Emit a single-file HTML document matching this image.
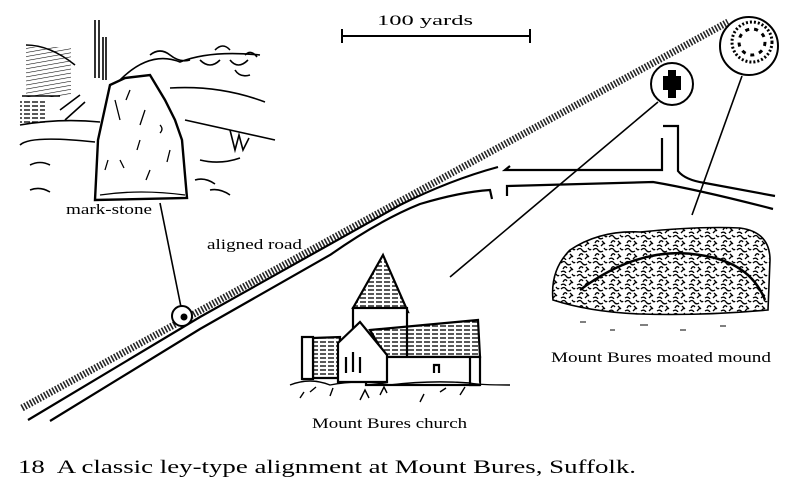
<!DOCTYPE html>
<html><head><meta charset="utf-8"><style>
html,body{margin:0;padding:0;background:#fff;}
svg{display:block;}
text{font-family:"Liberation Serif",serif;fill:#000;}
</style></head><body>
<svg width="800" height="486" viewBox="0 0 800 486" xmlns="http://www.w3.org/2000/svg">
<defs>
<pattern id="scrib" width="16" height="13" patternUnits="userSpaceOnUse">
<path d="M1 3 q3 -3 5 0 t5 1 M3 9 q2 -4 4 -1 M10 7 l3 3 M12 1 q2 3 3 1 M1 12 q3 -2 5 1 M9 12 l3 -3" stroke="#000" stroke-width="1.3" fill="none"/>
</pattern>
<pattern id="hatch" width="4" height="4" patternUnits="userSpaceOnUse" patternTransform="rotate(80)">
<line x1="0" y1="0" x2="0" y2="4" stroke="#000" stroke-width="1.1"/>
</pattern>
<pattern id="hlines" width="8" height="4" patternUnits="userSpaceOnUse">
<line x1="0" y1="2" x2="6" y2="2" stroke="#000" stroke-width="1.3"/>
</pattern>
</defs>

<!-- scale bar -->
<text x="377" y="25" font-size="15" textLength="96" lengthAdjust="spacingAndGlyphs">100 yards</text>
<path d="M342 36 H530 M342 29 V43 M530 29 V43" stroke="#000" stroke-width="2" fill="none"/>

<!-- ley dotted line -->
<line x1="22" y1="408" x2="728" y2="22" stroke="#000" stroke-width="7" stroke-dasharray="1.6 1.6" opacity="0.85"/>

<!-- road edges -->
<path d="M28 420 L200 317 L400 205 Q450 180 498 167" stroke="#000" stroke-width="2.2" fill="none"/>
<path d="M50 421 L200 329 L330 255 Q380 220 420 204 Q460 192 490 190 L492 199" stroke="#000" stroke-width="2.2" fill="none"/>
<path d="M510 166 L505 170 L662 170 L662 138 M663 126 H678 V171 Q685 180 705 183 L775 196" stroke="#000" stroke-width="2.2" fill="none"/>
<path d="M507 196 L507 186 L653 182 Q700 190 773 209" stroke="#000" stroke-width="2.2" fill="none"/>

<!-- pointer lines -->
<line x1="450" y1="277" x2="658" y2="102" stroke="#000" stroke-width="1.6"/>
<line x1="692" y1="215" x2="742" y2="76" stroke="#000" stroke-width="1.6"/>
<line x1="160" y1="203" x2="181" y2="307" stroke="#000" stroke-width="1.6"/>

<!-- circles -->
<circle cx="182" cy="316" r="10" fill="#fff" stroke="#000" stroke-width="2"/>
<circle cx="184" cy="317" r="3.5" fill="#000"/>
<circle cx="672" cy="84" r="21" fill="#fff" stroke="#000" stroke-width="2"/>
<path d="M668 70 h8 v6 h5 v14 h-5 v8 h-8 v-8 h-5 v-14 h5z" fill="#000"/>
<circle cx="749" cy="46" r="29" fill="#fff" stroke="#000" stroke-width="2"/>
<circle cx="752" cy="42" r="20" fill="none" stroke="#000" stroke-width="3" stroke-dasharray="2 2"/>
<circle cx="752" cy="42" r="13" fill="none" stroke="#000" stroke-width="3" stroke-dasharray="4 5"/>

<!-- mark-stone sketch -->
<g stroke="#000" fill="none" stroke-width="1.6">
<path d="M95 20 V78 M99 20 V78 M103 37 V80 M106 37 V80"/>
<rect x="26" y="47" width="45" height="50" fill="url(#hatch)" stroke="none"/>
<rect x="20" y="100" width="25" height="25" fill="url(#hlines)" stroke="none"/>
<path d="M26 45 Q50 45 75 65 M22 96 H60 M20 125 Q60 118 100 122 M20 145 Q30 135 95 142 M170 88 Q220 85 265 102 M185 120 L230 130 L275 140 M120 80 Q150 50 180 62 Q210 50 260 55"/>
<path d="M150 55 q10 -8 20 0 t20 5 M200 60 q10 10 20 0 M230 60 q8 10 18 0 M235 70 q5 8 15 5 M215 50 q8 -8 15 0 M245 55 q6 -6 12 2 M60 110 l20 -15 M65 120 l20 -18" />
<path d="M95 200 L98 140 L110 85 L125 78 L150 75 L165 100 L175 120 L182 140 L185 175 L187 198 Z" fill="#fff" stroke-width="2.4"/>
<path d="M115 100 l5 20 M145 110 l-5 15 M160 125 q4 4 0 8 M140 140 l-3 10 M120 160 l4 8 M150 170 l-4 10 M100 195 q40 -6 85 0 M130 90 l-4 10 M170 150 l-3 12 M105 170 l3 -10" stroke-width="1.3"/>
<path d="M230 130 l5 20 l4 -15 l4 15 l6 -12 M30 165 q10 -5 20 0 M30 190 q10 -4 20 2 M200 160 q20 5 40 -2 M195 180 q10 -3 20 4 M210 190 q10 -2 20 5"/>
</g>
<text x="66" y="214" font-size="15" textLength="86" lengthAdjust="spacingAndGlyphs">mark-stone</text>
<text x="207" y="249" font-size="15" textLength="95" lengthAdjust="spacingAndGlyphs">aligned road</text>

<!-- church -->
<g stroke="#000" stroke-width="2.2" fill="#fff">
<path d="M383 255 L353 308 L408 312 Z" fill="url(#hlines)"/>
<rect x="353" y="308" width="54" height="60"/>
<path d="M370 330 L478 320 L480 357 L386 357 Z" fill="url(#hlines)"/>
<rect x="366" y="357" width="114" height="28"/>
<path d="M313 338 L340 337 L338 378 L313 378 Z" fill="url(#hlines)"/>
<rect x="302" y="337" width="11" height="42"/>
<path d="M338 343 L360 322 L387 355 L387 382 L338 382 Z"/>
<path d="M346 357 v16 M353 352 v20 M360 357 v16 M434 373 v-8 h5 v8"/>
<path d="M470 357 v28 h10"/>
</g>
<path d="M290 385 q20 -8 40 0 q30 -6 60 0 q40 -5 80 -2 q10 2 40 2 M300 398 l4 -6 M330 396 l3 -8 M360 400 l5 -10 l4 8 M420 402 l4 -8 M460 395 l5 -8 M380 395 l4 -8 l3 6 M310 392 l6 -5 M440 392 l6 -4" stroke="#000" stroke-width="1.4" fill="none"/>
<text x="312" y="428" font-size="15" textLength="155" lengthAdjust="spacingAndGlyphs">Mount Bures church</text>

<!-- mound -->
<path d="M553 300 Q550 270 570 250 Q600 230 640 232 Q700 226 740 228 Q770 232 770 260 L768 310 Q700 316 640 314 Q590 312 553 300 Z" fill="url(#scrib)" stroke="#000" stroke-width="1.6"/>
<path d="M580 290 Q640 245 700 255 Q750 262 765 300" stroke="#000" stroke-width="2.5" fill="none"/>
<path d="M580 322 h6 M610 330 h5 M640 325 h8 M680 330 h6 M720 326 h6" stroke="#000" stroke-width="1"/>
<text x="551" y="362" font-size="15" textLength="220" lengthAdjust="spacingAndGlyphs">Mount Bures moated mound</text>

<!-- caption -->
<text x="18" y="473" font-size="19" textLength="618" lengthAdjust="spacingAndGlyphs" xml:space="preserve">18  A classic ley-type alignment at Mount Bures, Suffolk.</text>
</svg>
</body></html>
